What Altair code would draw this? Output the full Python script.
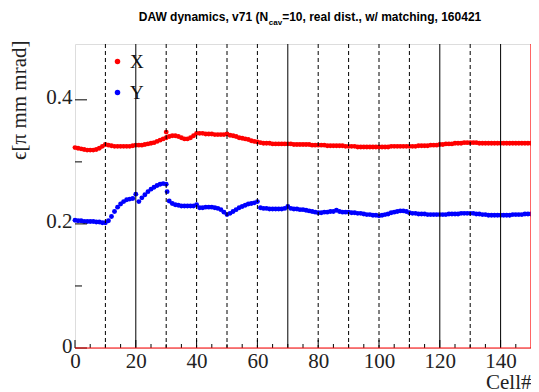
import altair as alt
import pandas as pd

# ---------------- data ----------------
series_names = ["X", "Y"]
series_colors = ["#ff0000", "#0000ff"]

cells = list(range(0, 151))

x_vals = [0.323, 0.322, 0.321, 0.320, 0.319, 0.319, 0.319, 0.320, 0.322, 0.325, 0.328,
          0.327, 0.326, 0.325, 0.325, 0.325, 0.325, 0.325, 0.325, 0.326, 0.327,
          0.327, 0.327, 0.328, 0.329, 0.330, 0.331, 0.333, 0.335, 0.337, 0.339,
          0.341, 0.342, 0.342, 0.341, 0.339, 0.337, 0.337, 0.339, 0.342, 0.346,
          0.346, 0.346, 0.345, 0.345, 0.345, 0.344, 0.344, 0.344, 0.344, 0.345,
          0.343, 0.342, 0.341, 0.339, 0.338, 0.337, 0.336, 0.334, 0.333, 0.332,
          0.331, 0.330, 0.330, 0.330, 0.329, 0.329, 0.329, 0.329, 0.329, 0.329,
          0.329, 0.328, 0.328, 0.328, 0.328, 0.328, 0.328, 0.327, 0.327, 0.327,
          0.327, 0.327, 0.326, 0.326, 0.326, 0.326, 0.326, 0.326, 0.325, 0.325,
          0.325, 0.325, 0.324, 0.324, 0.324, 0.324, 0.324, 0.324, 0.324, 0.324,
          0.324, 0.324, 0.324, 0.325, 0.325, 0.325, 0.325, 0.325, 0.325, 0.325,
          0.325, 0.325, 0.326, 0.326, 0.326, 0.326, 0.327, 0.327, 0.327, 0.328,
          0.328, 0.329, 0.329, 0.329, 0.330, 0.330, 0.330, 0.331, 0.331, 0.331,
          0.331, 0.331, 0.330, 0.330, 0.330, 0.330, 0.330, 0.330, 0.330, 0.330,
          0.330, 0.330, 0.330, 0.330, 0.330, 0.330, 0.330, 0.330, 0.330, 0.330]

y_vals = [0.206, 0.205, 0.205, 0.204, 0.204, 0.204, 0.204, 0.203, 0.203, 0.202, 0.202,
          0.205, 0.212, 0.220, 0.227, 0.232, 0.236, 0.239, 0.240, 0.241, 0.248,
          0.236, 0.242, 0.247, 0.252, 0.256, 0.259, 0.262, 0.264, 0.265, 0.264,
          0.237, 0.233, 0.231, 0.230, 0.229, 0.229, 0.229, 0.229, 0.229, 0.231,
          0.226, 0.226, 0.227, 0.227, 0.227, 0.226, 0.225, 0.223, 0.219, 0.215,
          0.217, 0.220, 0.223, 0.226, 0.228, 0.230, 0.232, 0.233, 0.234, 0.236,
          0.226, 0.225, 0.225, 0.224, 0.224, 0.224, 0.224, 0.224, 0.225, 0.228,
          0.225, 0.224, 0.224, 0.223, 0.223, 0.222, 0.221, 0.220, 0.219, 0.218,
          0.218, 0.219, 0.219, 0.220, 0.220, 0.222, 0.220, 0.219, 0.219, 0.219,
          0.218, 0.218, 0.217, 0.217, 0.216, 0.215, 0.215, 0.214, 0.214, 0.213,
          0.214, 0.215, 0.216, 0.218, 0.219, 0.220, 0.221, 0.221, 0.220, 0.218,
          0.217, 0.217, 0.216, 0.216, 0.216, 0.215, 0.215, 0.215, 0.215, 0.215,
          0.215, 0.215, 0.216, 0.216, 0.216, 0.216, 0.217, 0.217, 0.217, 0.217,
          0.217, 0.216, 0.216, 0.215, 0.215, 0.214, 0.214, 0.214, 0.214, 0.214,
          0.214, 0.214, 0.214, 0.215, 0.215, 0.215, 0.215, 0.216, 0.216, 0.216]

# isolated extra points (spikes at cell 30)
x_extra_cells = [30.0]
x_extra_vals = [0.348]
y_extra_cells = [30.3]
y_extra_vals = [0.252]

solid_lines = [20, 70, 120, 140]
dashed_lines = [10, 30, 40, 50, 60, 80, 90, 100, 110, 130]

x_label_ticks = [0, 20, 40, 60, 80, 100, 120, 140]
x_minor_ticks = [5, 10, 15, 25, 30, 35, 45, 50, 55, 65, 70, 75, 85, 90, 95,
                 105, 110, 115, 125, 130, 135, 145]
y_label_ticks = [0, 0.2, 0.4]
y_minor_ticks = [0.1, 0.3]

title_part1 = "DAW dynamics, v71 (N"
title_sub = "cav"
title_part2 = "=10, real dist., w/ matching, 160421"

# ---------------- layout ----------------
PAD_L, PAD_T, PAD_R, PAD_B = 67, 36, 0, 44
W, H = 456, 304
XMAX, YMAX = 150, 0.49
SERIF = "Liberation Serif"
SANS = "Liberation Sans"

# Arial-Bold-compatible advance widths (per 1000 em) to place the subscript
_w = {' ': 278, ',': 278, '.': 278, '(': 333, ')': 333, '/': 278, '=': 584,
      'D': 722, 'A': 722, 'W': 944, 'N': 722}
for ch in "0123456789": _w[ch] = 556
for ch, v in dict(a=556, c=556, d=611, e=556, g=611, h=611, i=278, l=278, m=889,
                  n=611, r=389, s=556, t=333, v=556, w=778, y=556).items():
    _w[ch] = v


def tw(s, size):
    return sum(_w.get(c, 556) for c in s) * size / 1000.0


T_SIZE, S_SIZE = 12, 8
w1, ws, w2 = tw(title_part1, T_SIZE), tw(title_sub, S_SIZE), tw(title_part2, T_SIZE)
title_center = 235
t_start = title_center - (w1 + ws + w2) / 2
t_base = -23

xs = alt.Scale(domain=[0, XMAX], nice=False, zero=False)
ys = alt.Scale(domain=[0, YMAX], nice=False, zero=False)

x_axis = alt.Axis(
    values=x_label_ticks, ticks=False, grid=False, domain=False,
    labelFont=SERIF, labelFontSize=21, labelColor="#222", labelPadding=2,
    labelFlush=False,
    title="Cell#", titleFont=SERIF, titleFontSize=21, titleFontWeight="normal",
    titleColor="#222", titleAnchor="end", titleAlign="right", titleX=W,
    titleY=40, titleBaseline="alphabetic")
y_axis = alt.Axis(
    values=y_label_ticks, ticks=False, grid=False, domain=False,
    labelExpr="datum.value == 0 ? '0' : format(datum.value, '.1f')",
    labelFont=SERIF, labelFontSize=21, labelColor="#222", labelPadding=3,
    labelOffset=-2, labelFlush=False,
    title="ϵ[π mm mrad]", titleFont=SERIF, titleFontSize=21, titleFontWeight="normal",
    titleColor="#222", titleAngle=270, titleAlign="right", titleBaseline="middle",
    titleX=-56, titleY=-4)


def X(field="cell"):
    return alt.X(f"{field}:Q", scale=xs, axis=x_axis)


def Y(field="emit"):
    return alt.Y(f"{field}:Q", scale=ys, axis=y_axis)


df = pd.DataFrame({
    "cell": cells + x_extra_cells + cells + y_extra_cells,
    "emit": x_vals + x_extra_vals + y_vals + y_extra_vals,
    "series": ["X"] * (len(cells) + len(x_extra_cells)) + ["Y"] * (len(cells) + len(y_extra_cells)),
})

points = alt.Chart(df).mark_circle(size=24, opacity=1).encode(
    x=X(), y=Y(),
    color=alt.Color("series:N", scale=alt.Scale(domain=series_names, range=series_colors),
                    legend=alt.Legend(orient="none", legendX=33, legendY=8, title=None,
                                      symbolType="circle", symbolSize=30,
                                      symbolStrokeWidth=0, labelFont=SERIF,
                                      labelFontSize=19, labelColor="#111",
                                      labelOffset=3, rowPadding=11, padding=0)),
)

solid = alt.Chart(pd.DataFrame({"cell": solid_lines})).mark_rule(
    color="black", strokeWidth=1).encode(x=X())
dashed = alt.Chart(pd.DataFrame({"cell": dashed_lines})).mark_rule(
    color="black", strokeWidth=1, strokeDash=[4, 3]).encode(x=X())

xt_major = alt.Chart(pd.DataFrame({"cell": x_label_ticks})).mark_rule(
    color="black", strokeWidth=1).encode(x=X(), y=alt.value(H), y2=alt.value(H - 8))
xt_minor = alt.Chart(pd.DataFrame({"cell": x_minor_ticks})).mark_rule(
    color="black", strokeWidth=1).encode(x=X(), y=alt.value(H), y2=alt.value(H - 4))
yt_major = alt.Chart(pd.DataFrame({"emit": y_label_ticks})).mark_rule(
    color="black", strokeWidth=1).encode(y=Y(), x=alt.value(0), x2=alt.value(12))
yt_minor = alt.Chart(pd.DataFrame({"emit": y_minor_ticks})).mark_rule(
    color="black", strokeWidth=1).encode(y=Y(), x=alt.value(0), x2=alt.value(7))

red_right = alt.Chart(pd.DataFrame({"cell": [XMAX]})).mark_rule(
    color="#ff0000", strokeWidth=1.2).encode(x=X())
red_bottom = alt.Chart(pd.DataFrame({"emit": [0]})).mark_rule(
    color="#ff0000", strokeWidth=1).encode(y=Y())

t1 = alt.Chart(pd.DataFrame({"t": [title_part1]})).mark_text(
    font=SANS, fontSize=T_SIZE, fontWeight="bold", align="left", baseline="alphabetic",
    color="black").encode(x=alt.value(t_start), y=alt.value(t_base), text="t:N")
t2 = alt.Chart(pd.DataFrame({"t": [title_sub]})).mark_text(
    font=SANS, fontSize=S_SIZE, fontWeight="bold", align="left", baseline="alphabetic",
    color="black").encode(x=alt.value(t_start + w1), y=alt.value(t_base + 4), text="t:N")
t3 = alt.Chart(pd.DataFrame({"t": [title_part2]})).mark_text(
    font=SANS, fontSize=T_SIZE, fontWeight="bold", align="left", baseline="alphabetic",
    color="black").encode(x=alt.value(t_start + w1 + ws), y=alt.value(t_base), text="t:N")

chart = alt.layer(
    points, solid, dashed, xt_major, xt_minor, yt_major, yt_minor,
    red_bottom, red_right, t1, t2, t3
).properties(
    width=W, height=H,
    autosize=alt.AutoSizeParams(type="none"),
    padding={"left": PAD_L, "top": PAD_T, "right": PAD_R, "bottom": PAD_B},
).configure_view(stroke="black", strokeWidth=1).configure(background="white")

chart.save("out.html", embed_options={"renderer": "svg", "actions": False})
